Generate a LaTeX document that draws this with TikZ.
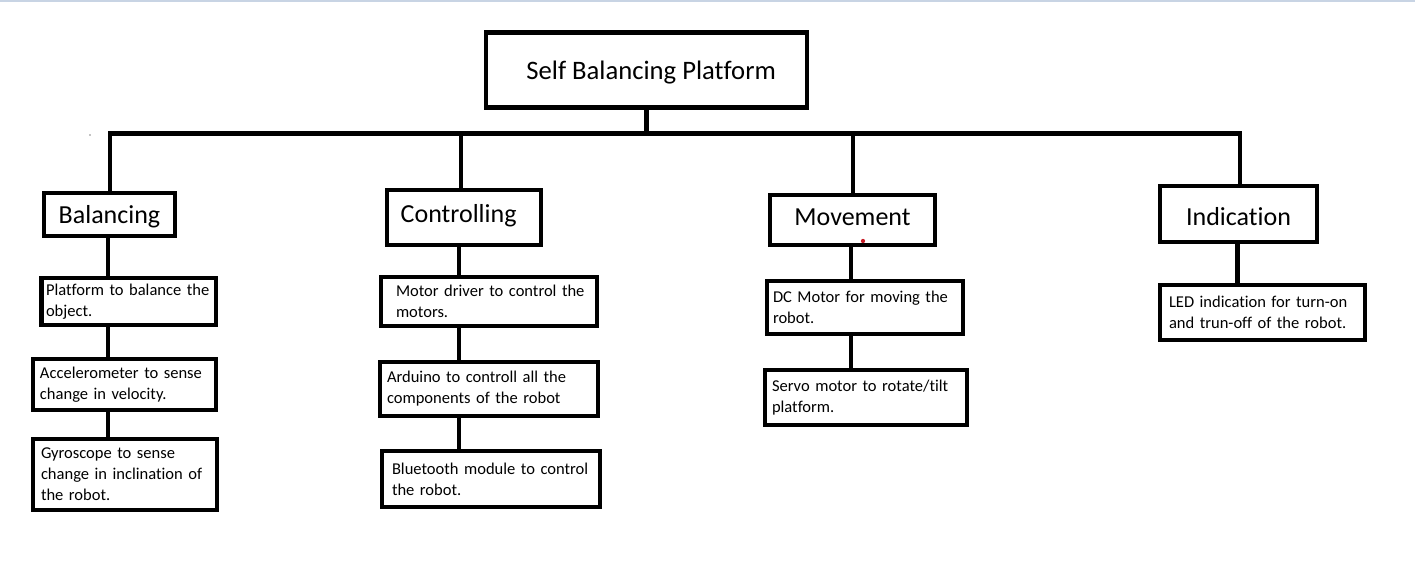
\documentclass[tikz,border=0pt]{standalone}
\usepackage{fontspec}
\setmainfont{Carlito}[Ligatures=NoCommon]
\begin{document}
\begin{tikzpicture}[x=0.75pt,y=-0.75pt,
  sz/.style n args={3}{minimum width=#1*0.75pt, minimum height=#2*0.75pt, inner xsep=#3*0.75pt, text width=(#1-2*#3)*0.75pt},
  bsz/.style 2 args={minimum width=#1*0.75pt, minimum height=#2*0.75pt},
  bl/.style 2 args={text height=#1, text depth=#2},
  topbox/.style={draw, line width=3.4pt, inner sep=0pt, font=\fontsize{20}{24}\selectfont},
  catbox/.style={draw, line width=3.3pt, inner sep=0pt, font=\fontsize{19.5}{23}\selectfont},
  subbox/.style={draw, line width=3.1pt, inner ysep=0pt, align=left, font=\fontsize{12.4}{15.75}\selectfont},
  conn/.style={line width=3.6pt},
  subconn/.style={line width=3.3pt},
]
\useasboundingbox (0,0) rectangle (1415,565);
\fill[white] (0,0) rectangle (1415,565);
\draw[color={rgb,255:red,200;green,212;blue,228}, line width=1.2pt] (0,0.8) -- (1415,0.8);

% top
\node[topbox, bsz={321}{75}, bl={15.75pt}{2.25pt}] (top) at (646.5,70) {\hspace*{7pt}Self Balancing Platform};

% categories
\node[catbox, bsz={131}{43}, bl={16.1pt}{1.9pt}] (bal) at (109.5,214.5) {Balancing};
\node[catbox, bsz={154}{55}, bl={12.4pt}{5.6pt}] (ctl) at (464,217.5) {Controlling\hspace*{8pt}};
\node[catbox, bsz={165}{50}, bl={12.75pt}{5.25pt}] (mov) at (852.5,220) {Movement};
\node[catbox, bsz={157}{56}, bl={17.25pt}{0.75pt}] (ind) at (1238.5,214) {Indication};

% bus junctions
\coordinate (jB) at (110,133.5);
\coordinate (jC) at (461,133.5);
\coordinate (jM) at (853,133.5);
\coordinate (jI) at (1240,133.5);
\coordinate (cB) at (108,0);
\coordinate (cC) at (459,0);
\coordinate (cM) at (851,0);
\coordinate (cI) at (1237.5,0);

% sub boxes
\node[subbox, sz={174.5}{47}{4.5}] (p1) at (128.75,301.5) {\mbox{Platform to balance the}\\\mbox{object.}};
\node[subbox, sz={183}{51}{7}] (p2) at (124.5,384.5) {\mbox{Accelerometer to sense}\\\mbox{change in velocity.}};
\node[subbox, sz={184}{71}{8}] (p3) at (125,474.5) {\mbox{Gyroscope to sense}\\\mbox{change in inclination of}\\\mbox{the robot.}};

\node[subbox, sz={216}{49}{15}] (m1) at (489,301.5) {\mbox{Motor driver to control the}\\\mbox{motors.}};
\node[subbox, sz={218}{54}{7}] (m2) at (489,389) {\mbox{Arduino to controll all the}\\\mbox{components of the robot}};
\node[subbox, sz={218}{56}{10}] (m3) at (491,479) {\mbox{Bluetooth module to control}\\\mbox{the robot.}};

\node[subbox, sz={196}{53}{6}] (d1) at (865,307.5) {\mbox{DC Motor for moving the}\\\mbox{robot.}};
\node[subbox, sz={202}{55}{7}] (d2) at (866,397.5) {\mbox{Servo motor to rotate/tilt}\\\mbox{platform.}};

\node[subbox, sz={205}{55}{9}] (l1) at (1262.5,312.5) {\mbox{LED indication for turn-on}\\\mbox{and trun-off of the robot.}};

% connectors
\draw[conn] (top.south) -- (top.south |- jB);
\draw[conn] (bal.north -| jB) -- (jB) -- (jI) -- (ind.north -| jI);
\draw[conn] (jC) -- (ctl.north -| jC);
\draw[conn] (jM) -- (mov.north -| jM);

\draw[subconn] (bal.south -| cB) -- (p1.north -| cB);
\draw[subconn] (p1.south -| cB) -- (p2.north -| cB);
\draw[subconn] (p2.south -| cB) -- (p3.north -| cB);

\draw[subconn] (ctl.south -| cC) -- (m1.north -| cC);
\draw[subconn] (m1.south -| cC) -- (m2.north -| cC);
\draw[subconn] (m2.south -| cC) -- (m3.north -| cC);

\draw[subconn] (mov.south -| cM) -- (d1.north -| cM);
\draw[subconn] (d1.south -| cM) -- (d2.north -| cM);

\draw[subconn] (ind.south -| cI) -- (l1.north -| cI);

% specks
\fill[color={rgb,255:red,200;green,30;blue,40}] (863,241) circle[radius=1.6pt];
\fill[black] (90,135) circle[radius=0.5pt];
\end{tikzpicture}
\end{document}
